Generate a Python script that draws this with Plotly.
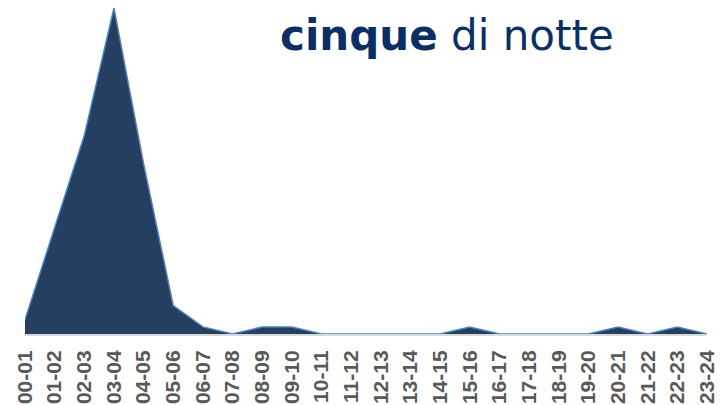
import plotly.graph_objects as go

fasce = ['00-01', '01-02', '02-03', '03-04', '04-05', '05-06', '06-07', '07-08',
         '08-09', '09-10', '10-11', '11-12', '12-13', '13-14', '14-15', '15-16',
         '16-17', '17-18', '18-19', '19-20', '20-21', '21-22', '22-23', '23-24']
valori = [2, 15, 28, 46, 24, 4, 1, 0,
          1, 1, 0, 0, 0, 0, 0, 1,
          0, 0, 0, 0, 1, 0, 1, 0]

pos = list(range(len(fasce)))

fig = go.Figure()
fig.add_trace(go.Scatter(x=pos, y=valori, mode='lines', fill='tozeroy',
                         fillcolor='#243F60', line=dict(color='#4F81BD', width=1.5)))

fig.add_annotation(text='<b>cinque</b> di notte', xref='paper', yref='paper',
                   x=0.867, y=0.915, xanchor='right', yanchor='middle', showarrow=False,
                   font=dict(family='DejaVu Sans', size=42, color='#0B2F63'))

# la pagina ha un margine di 8px, quindi margini compensati
fig.update_layout(width=728, height=405, showlegend=False,
                  margin=dict(l=17, r=29, t=0, b=79, autoexpand=False),
                  paper_bgcolor='white', plot_bgcolor='white',
                  xaxis=dict(range=[0, 23], tickangle=-90, showgrid=False, zeroline=False,
                             showline=True, linecolor='#D9D9D9', linewidth=2,
                             tickvals=pos, ticktext=['<b>' + f + '</b>' for f in fasce],
                             tickfont=dict(family='Liberation Sans', size=21, color='#595959'),
                             ticks='', automargin=False, ticklabelstandoff=6),
                  yaxis=dict(range=[0, 46], visible=False, showgrid=False, automargin=False))

fig.write_html("out.html")
